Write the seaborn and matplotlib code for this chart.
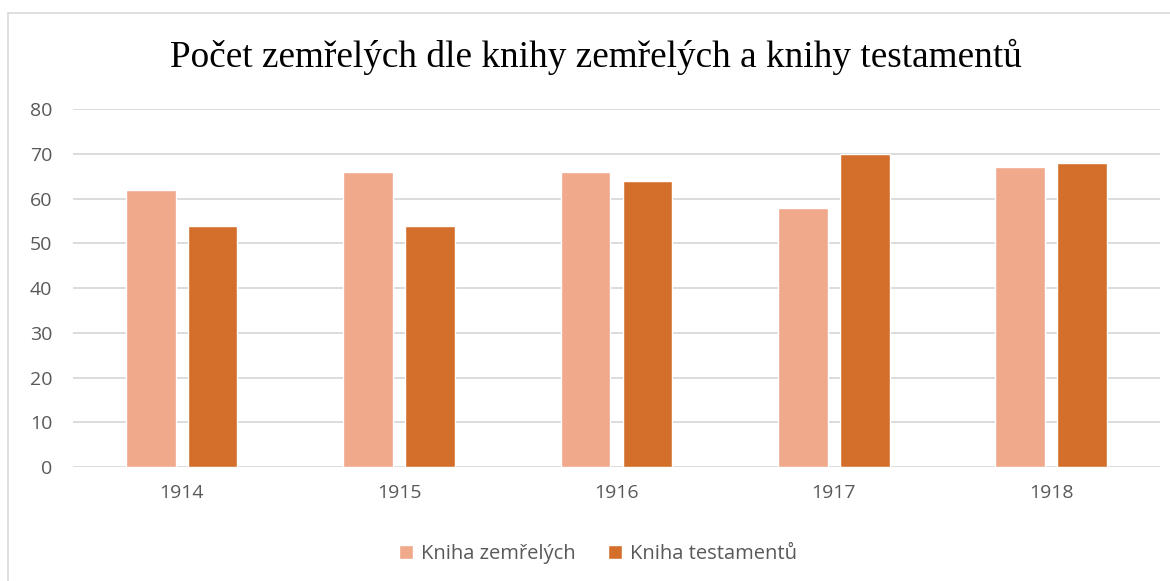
import pandas as pd
import matplotlib.pyplot as plt
import seaborn as sns
from matplotlib.patches import Rectangle

# data
years = ['1914', '1915', '1916', '1917', '1918']
kniha_zemrelych = [62, 66, 66, 58, 67]
kniha_testamentu = [54, 54, 64, 70, 68]
series_names = ['Kniha zemřelých', 'Kniha testamentů']
colors = ['#F0A98A', '#D36F2B']

df = pd.DataFrame({
    'rok': years * 2,
    'pocet': kniha_zemrelych + kniha_testamentu,
    'serie': [series_names[0]] * len(years) + [series_names[1]] * len(years),
})

sns.set_style('white')
plt.rcParams['font.family'] = ['Open Sans', 'DejaVu Sans']

fig = plt.figure(figsize=(11.7, 5.81), dpi=100)
ax = fig.add_axes([0.0624, 0.196, 0.929, 0.616])

sns.barplot(data=df, x='rok', y='pocet', hue='serie', palette=colors,
            width=0.57, gap=0.2, saturation=1, ax=ax)

ax.set_ylim(0, 80)
ax.set_yticks(range(0, 81, 10))
ax.yaxis.grid(True, color='#d9d9d9', linewidth=1.3)
ax.set_axisbelow(True)
for s in ax.spines.values():
    s.set_visible(False)
ax.tick_params(axis='both', length=0, labelsize=14, labelcolor='#595959')
ax.tick_params(axis='y', pad=15)
ax.tick_params(axis='x', pad=12)
ax.set_xlabel('')
ax.set_ylabel('')

ax.legend(loc='upper center', bbox_to_anchor=(0.483, -0.165), ncol=2, frameon=False,
          fontsize=14.5, labelcolor='#595959', handlelength=0.72, handleheight=0.72,
          handletextpad=0.4, columnspacing=1.6)

fig.text(0.509, 0.902, 'Počet zemřelých dle knihy zemřelých a knihy testamentů',
         ha='center', va='center', fontsize=26.8, family='Liberation Serif', color='black')

# chart border
fig.patches.append(Rectangle((8 / 1170, -0.01), 1170 / 1170, 1 - 13 / 581 + 0.01,
                             transform=fig.transFigure, fill=False,
                             edgecolor='#d9d9d9', linewidth=1.2))

fig.savefig('out.png', dpi=100)
